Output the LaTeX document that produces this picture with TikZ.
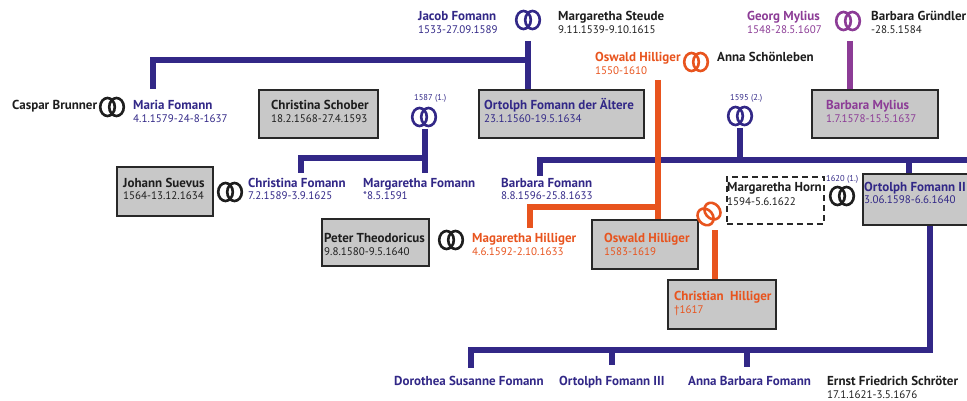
\documentclass[tikz,border=0pt]{standalone}
\usepackage{fontspec}
\setmainfont{PT Sans}
\definecolor{fpurple}{RGB}{50,40,135}
\definecolor{fmagenta}{RGB}{140,60,150}
\definecolor{forange}{RGB}{232,84,30}
\definecolor{boxfill}{RGB}{200,200,200}
\definecolor{border}{RGB}{40,40,40}
\definecolor{ftext}{RGB}{30,30,30}
\begin{document}
\begin{tikzpicture}[x=1pt,y=-1pt,
  pname/.style={anchor=base west, inner sep=0pt, font=\fontsize{13}{15}\selectfont\bfseries},
  pdate/.style={anchor=base west, inner sep=0pt, font=\fontsize{11}{13}\selectfont},
  small/.style={anchor=base west, inner sep=0pt, font=\fontsize{8.5}{10}\selectfont, text=fpurple},
  famebox/.style={draw=border, line width=2pt, fill=boxfill, anchor=north west, inner sep=0pt},
  dashbox/.style={draw=border, line width=1.8pt, dash pattern=on 6pt off 4pt, anchor=north west, inner sep=0pt},
  link/.style={line width=6.5pt, line join=miter},
  rings/.pic={
    \draw[line width=2.6pt] (-4.5,0) ellipse [x radius=7.3, y radius=9];
    \draw[line width=2.6pt] (4.5,0) ellipse [x radius=7.3, y radius=9];
  }]
\useasboundingbox (0,0) rectangle (967,401);
\clip (0,0) rectangle (967,401);

% ---------- junction coordinates ----------
\coordinate (jStem) at (528,41);
\coordinate (mariaTop) at (153,89);
\coordinate (gStem) at (850,41);
\coordinate (s1587) at (425,129);
\coordinate (cfTop) at (301,173);
\coordinate (mfTop) at (425,173);
\coordinate (s1595) at (740,128);
\coordinate (bfTop) at (540,176);
\coordinate (rightEnd) at (980,160);
\coordinate (o2Top) at (909,173);
\coordinate (o2Bot) at (930,224);
\coordinate (doroTop) at (471,368);
\coordinate (ortTop) at (612,365);
\coordinate (annaTop) at (747,367);
\coordinate (oswStem) at (658,80);
\coordinate (magTop) at (530,228);
\coordinate (chrStem) at (715,230);
\coordinate (bOrtTop) at (528,89);
\coordinate (bMylTop) at (850,89);
\coordinate (bOswTop) at (658,219);
\coordinate (bChrTop) at (715,279);

% ---------- connectors ----------
\draw[link, fpurple] (jStem) -- (bOrtTop);
\draw[link, fpurple] (jStem |- 0,60) -| (mariaTop);
\draw[link, fpurple] (s1587) -- (mfTop);
\draw[link, fpurple] (s1587 |- 0,158) -| (cfTop);
\draw[link, fpurple] (s1595) -- (s1595 |- 0,160);
\draw[link, fpurple] (bfTop) |- (rightEnd);
\draw[link, fpurple] (o2Top |- 0,160) -- (o2Top);
\draw[link, fpurple] (o2Bot) -- (o2Bot |- 0,350) -| (doroTop);
\draw[link, fpurple] (ortTop |- 0,350) -- (ortTop);
\draw[link, fpurple] (annaTop |- 0,350) -- (annaTop);
\draw[link, fmagenta] (gStem) -- (bMylTop);
\draw[link, forange] (oswStem) -- (bOswTop);
\draw[link, forange] (oswStem |- 0,207) -| (magTop);
\draw[link, forange] (chrStem) -- (bChrTop);

% ---------- boxes ----------
\node[famebox, minimum width=119pt, minimum height=48pt] (bSchober) at (258,89) {};
\node[famebox, minimum width=165pt, minimum height=48pt] (bOrt) at (478,89) {};
\node[famebox, minimum width=126pt, minimum height=48pt] (bMylius) at (811,89) {};
\node[famebox, minimum width=96pt, minimum height=49pt] (bSuevus) at (116,166) {};
\node[famebox, minimum width=107pt, minimum height=47pt] (bPeter) at (321,218) {};
\node[famebox, minimum width=106pt, minimum height=49pt] (bOsw) at (591,219) {};
\node[dashbox, minimum width=97pt, minimum height=47pt] (bHorn) at (726,176) {};
\node[famebox, minimum width=130pt, minimum height=51pt] (bO2) at (862,173) {};
\node[famebox, minimum width=108pt, minimum height=49pt] (bChr) at (667,279) {};

% ---------- rings ----------
\pic[fpurple] at (528,20) {rings};
\pic[ftext] at (112,107) {rings};
\pic[fpurple] at (424,117) {rings};
\pic[forange] at (696,62) {rings};
\pic[fmagenta] at (848,21) {rings};
\pic[fpurple] at (740,116) {rings};
\pic[ftext] at (230,192) {rings};
\pic[ftext] at (451,240) {rings};
\pic[forange, rotate=40] at (709,214) {rings};
\pic[ftext] at (842,196) {rings};

% ---------- texts ----------
\node[pname, text=fpurple] (tJacob) at (418,21) {Jacob Fomann};
\node[pdate, text=fpurple] (dJacob) at (418,34) {1533-27.09.1589};
\node[pname, text=ftext] (tSteude) at (558,21) {Margaretha Steude};
\node[pdate, text=ftext] (dSteude) at (558,34) {9.11.1539-9.10.1615};
\node[pname, text=fmagenta] (tGeorg) at (747,21) {Georg Mylius};
\node[pdate, text=fmagenta] (dGeorg) at (747,34) {1548-28.5.1607};
\node[pname, text=ftext] (tGruend) at (871,21) {Barbara Gründler};
\node[pdate, text=ftext] (dGruend) at (871,34) {-28.5.1584};
\node[pname, text=forange] (tOswS) at (595,62) {Oswald Hilliger};
\node[pdate, text=forange] (dOswS) at (595,75) {1550-1610};
\node[pname, text=ftext] (tAnna) at (717,62) {Anna Schönleben};

\node[pname, text=ftext] (tCaspar) at (12,110) {Caspar Brunner};
\node[pname, text=fpurple] (tMaria) at (133,110) {Maria Fomann};
\node[pdate, text=fpurple] (dMaria) at (133,123) {4.1.1579-24-8-1637};
\node[pname, text=ftext] (tSchober) at (271,110) {Christina Schober};
\node[pdate, text=ftext] (dSchober) at (271,123) {18.2.1568-27.4.1593};
\node[small] (y1587) at (414,101) {1587 (1.)};
\node[pname, text=fpurple] (tOrt) at (484,110) {Ortolph Fomann der Ältere};
\node[pdate, text=fpurple] (dOrt) at (484,123) {23.1.1560-19.5.1634};
\node[small] (y1595) at (730,101) {1595 (2.)};
\node[pname, text=fmagenta] (tMylius) at (826,110) {Barbara Mylius};
\node[pdate, text=fmagenta] (dMylius) at (826,123) {1.7.1578-15.5.1637};

\node[pname, text=ftext] (tSuevus) at (123,187) {Johann Suevus};
\node[pdate, text=ftext] (dSuevus) at (123,200) {1564-13.12.1634};
\node[pname, text=fpurple] (tChrF) at (248,187) {Christina Fomann};
\node[pdate, text=fpurple] (dChrF) at (248,200) {7.2.1589-3.9.1625};
\node[pname, text=fpurple] (tMarF) at (363,187) {Margaretha Fomann};
\node[pdate, text=fpurple] (dMarF) at (363,200) {*8.5.1591};
\node[pname, text=fpurple] (tBarF) at (501,187) {Barbara Fomann};
\node[pdate, text=fpurple] (dBarF) at (501,200) {8.8.1596-25.8.1633};
\node[pname, text=ftext] (tHorn) at (727,192) {Margaretha Horn};
\node[pdate, text=ftext] (dHorn) at (727,205) {1594-5.6.1622};
\node[small] (y1620) at (826,182) {1620 (1.)};
\node[pname, text=fpurple] (tO2) at (864,191) {Ortolph Fomann II};
\node[pdate, text=fpurple] (dO2) at (864,204) {3.06.1598-6.6.1640};

\node[pname, text=ftext] (tPeter) at (324,242) {Peter Theodoricus};
\node[pdate, text=ftext] (dPeter) at (324,255) {9.8.1580-9.5.1640};
\node[pname, text=forange] (tMagH) at (472,242) {Magaretha Hilliger};
\node[pdate, text=forange] (dMagH) at (472,255) {4.6.1592-2.10.1633};
\node[pname, text=forange] (tOsw) at (604,242) {Oswald Hilliger};
\node[pdate, text=forange] (dOsw) at (604,255) {1583-1619};
\node[pname, text=forange] (tChr) at (674,300) {Christian\ \ Hilliger};
\node[pdate, text=forange] (dChr) at (674,313) {†1617};

\node[pname, text=fpurple] (tDoro) at (394,385) {Dorothea Susanne Fomann};
\node[pname, text=fpurple] (tO3) at (559,385) {Ortolph Fomann III};
\node[pname, text=fpurple] (tAnnaB) at (688,385) {Anna Barbara Fomann};
\node[pname, text=ftext] (tErnst) at (827,385) {Ernst Friedrich Schröter};
\node[pdate, text=ftext] (dErnst) at (827,398) {17.1.1621-3.5.1676};
\end{tikzpicture}
\end{document}
